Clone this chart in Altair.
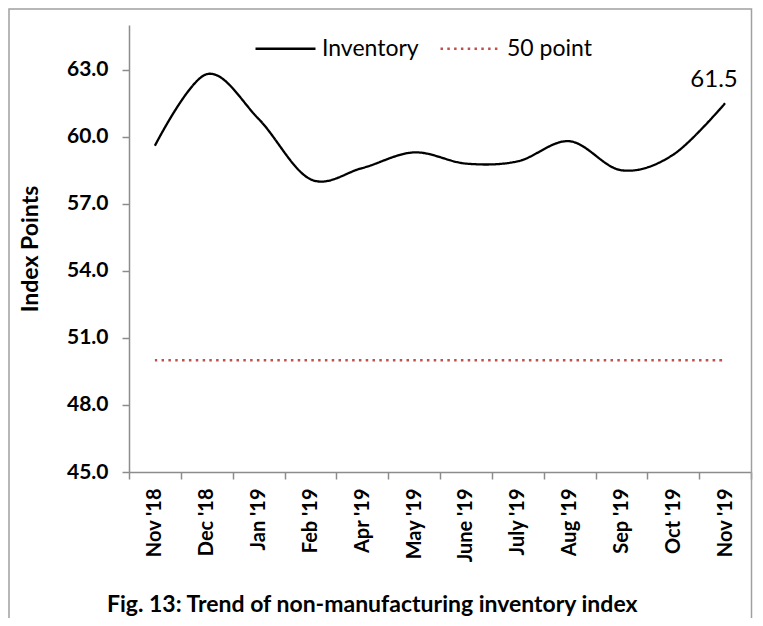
import altair as alt
import pandas as pd

months = ["Nov '18", "Dec '18", "Jan '19", "Feb '19", "Apr '19", "May '19",
          "June '19", "July '19", "Aug '19", "Sep '19", "Oct '19", "Nov '19"]
inventory = [59.6, 62.8, 60.8, 58.1, 58.6, 59.3, 58.8, 58.9, 59.8, 58.5, 59.2, 61.5]
fifty_point = [50, 50, 50, 50, 50, 50, 50, 50, 50, 50, 50, 50]
series_names = ["Inventory", "50 point"]
series_colors = ["#000000", "#c0504d"]
y_ticks = [45, 48, 51, 54, 57, 60, 63]
y_title = "Index Points"
caption = ["Fig. 13: Trend of non-manufacturing inventory index"]

rows = []
for m, v in zip(months, inventory):
    rows.append({"month": m, "value": v, "series": series_names[0]})
for m, v in zip(months, fifty_point):
    rows.append({"month": m, "value": v, "series": series_names[1]})
df = pd.DataFrame(rows)
df_last = pd.DataFrame([{"month": months[-1], "value": inventory[-1], "series": series_names[0]}])

W, H = 622, 447
FONT = "Lato"
AXIS_GRAY = "#8c8c8c"

x_enc = alt.X(
    "month:N", sort=months,
    scale=alt.Scale(type="band", paddingInner=0, paddingOuter=0, domain=months),
    axis=alt.Axis(title=None, labelAngle=270, tickBand="extent", labelFont=FONT,
                  labelFontWeight="bold", labelFontSize=20, labelColor="black",
                  domainColor=AXIS_GRAY, tickColor=AXIS_GRAY, tickSize=7,
                  domainWidth=1.5, tickWidth=1.5, labelPadding=9, grid=False),
)
y_enc = alt.Y(
    "value:Q",
    scale=alt.Scale(domain=[45, 65], nice=False, zero=False),
    axis=alt.Axis(title=y_title, values=y_ticks, format=".1f", labelFont=FONT,
                  labelFontWeight="bold", labelFontSize=21, labelColor="black",
                  domainColor=AXIS_GRAY, tickColor=AXIS_GRAY, tickSize=7,
                  domainWidth=1.5, tickWidth=1.5, labelPadding=14, grid=False,
                  titleFont=FONT, titleFontSize=23, titleFontWeight="bold",
                  titleColor="black", titleX=-99, titleY=H / 2,
                  titleBaseline="middle", titleAlign="center"),
)

legend = alt.Legend(title=None, orient="none", legendX=125, legendY=-8,
                    direction="horizontal", symbolType="stroke", symbolSize=3600,
                    symbolStrokeWidth=2.3, labelFont=FONT, labelFontSize=23,
                    labelColor="black", columnPadding=16, labelOffset=5)

lines = alt.Chart(df).mark_line(interpolate="cardinal", strokeWidth=2.3).encode(
    x=x_enc,
    y=y_enc,
    color=alt.Color("series:N", scale=alt.Scale(domain=series_names, range=series_colors),
                    legend=legend),
    strokeDash=alt.StrokeDash("series:N",
                              scale=alt.Scale(domain=series_names, range=[[1, 0], [2.5, 4.3]]),
                              legend=legend),
    detail="series:N",
)

label = alt.Chart(df_last).mark_text(font=FONT, fontSize=24, dx=-11, dy=-23,
                                     color="black").encode(
    x=x_enc, y=y_enc, text=alt.Text("value:Q", format=".1f"))

cap_df = pd.DataFrame({"t": caption})
cap = alt.Chart(cap_df).mark_text(font=FONT, fontSize=23, fontWeight="bold",
                                  align="left", baseline="middle", color="black").encode(
    x=alt.value(-22), y=alt.value(580), text="t:N")

frame = alt.Chart(pd.DataFrame({"a": [0]})).mark_rect(
    fillOpacity=0, stroke="#a0a0a0", strokeWidth=1.5).encode(
    x=alt.value(-120), x2=alt.value(622.5), y=alt.value(-16), y2=alt.value(640))

chart = alt.layer(frame, lines, label, cap).properties(
    width=W, height=H,
    autosize=alt.AutoSizeParams(type="none"),
    padding={"left": 121, "top": 17, "right": 2, "bottom": 146},
).configure_view(stroke=None)

chart.save("out.html", embed_options={"renderer": "svg", "actions": False})
